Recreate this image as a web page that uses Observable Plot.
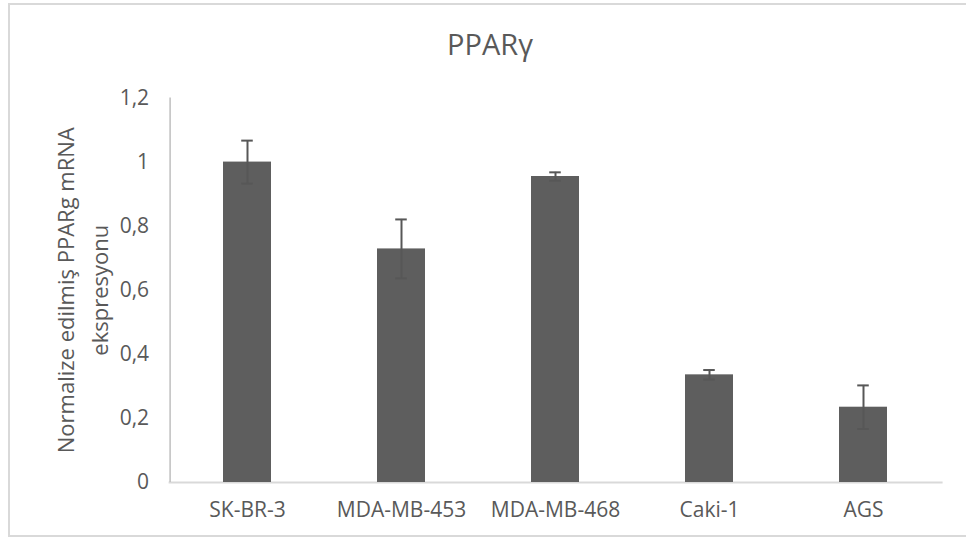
<!DOCTYPE html>
<html>
<head>
<meta charset="utf-8">
<script src="https://cdn.jsdelivr.net/npm/d3@7"></script>
<script src="https://cdn.jsdelivr.net/npm/@observablehq/plot@0.6"></script>
<style>
  html, body { margin: 0; padding: 0; background: #fff; }
  #wrap { position: relative; width: 966px; height: 538px; overflow: hidden; font-family: "Open Sans", sans-serif; }
  #frame { position: absolute; left: 8px; top: 3px; width: 980px; height: 534px; border: 2px solid #d9d9d9; box-sizing: border-box; }
  #title { position: absolute; left: 8px; width: 964px; top: 27px; text-align: center; font-size: 29px; line-height: 34px; color: #595959; }
  #chart { position: absolute; left: 0; top: 75px; }
</style>
</head>
<body>
<div id="wrap">
  <div id="frame"></div>
  <div id="title">PPARγ</div>
  <div id="chart"></div>
</div>
<script>
const categories = ["SK-BR-3", "MDA-MB-453", "MDA-MB-468", "Caki-1", "AGS"];
const values = [1.0, 0.729, 0.955, 0.336, 0.235];
const errors = [0.067, 0.092, 0.013, 0.015, 0.068];
const yTicks = [0, 0.2, 0.4, 0.6, 0.8, 1.0, 1.2];
const yTickLabels = ["0", "0,2", "0,4", "0,6", "0,8", "1", "1,2"];
const yTitle = "Normalize edilmiş PPARg mRNA\nekspresyonu";

const data = categories.map((c, i) => ({cat: c, v: values[i], e: errors[i]}));

const W = 966, H = 463, ml = 168.6, mr = 23.4, mt = 22.5, mb = 56;
const padIn = 0.687;
const step = (W - ml - mr) / categories.length;
const bw = step * (1 - padIn);
const capW = 12;

const chart = Plot.plot({
  width: W,
  height: H,
  marginLeft: ml,
  marginRight: mr,
  marginTop: mt,
  marginBottom: mb,
  style: {fontFamily: "Open Sans, sans-serif", fontSize: "21px", color: "#595959", background: "transparent"},
  x: {type: "band", domain: categories, paddingInner: padIn, paddingOuter: padIn / 2},
  y: {domain: [0, 1.2]},
  marks: [
    Plot.ruleY([0], {stroke: "#d9d9d9", strokeWidth: 2}),
    Plot.barY(data, {x: "cat", y: "v", fill: "#5e5e5e"}),
    Plot.ruleX(data, {x: "cat", y1: d => d.v - d.e, y2: d => d.v + d.e, stroke: "#575757", strokeWidth: 2}),
    Plot.tickY(data, {x: "cat", y: d => d.v + d.e, stroke: "#575757", strokeWidth: 2, insetLeft: (bw - capW) / 2, insetRight: (bw - capW) / 2}),
    Plot.tickY(data, {x: "cat", y: d => d.v - d.e, stroke: "#575757", strokeWidth: 2, insetLeft: (bw - capW) / 2, insetRight: (bw - capW) / 2}),
    Plot.ruleX([categories[0]], {x: d => d, y1: 0, y2: 1.2, dx: -step / 2, stroke: "#bfbfbf", strokeWidth: 1.5}),
    Plot.axisY({ticks: yTicks, tickFormat: d => yTickLabels[yTicks.indexOf(d)], tickSize: 0, tickPadding: 20, label: null, fontSize: 21}),
    Plot.axisX({tickSize: 0, tickPadding: 20, label: null, fontSize: 21}),
    Plot.text([yTitle], {text: d => d, frameAnchor: "left", rotate: -90, dx: -89, lineHeight: 1.55, fontSize: 22, fill: "#595959", textAnchor: "middle", lineAnchor: "middle"})
  ]
});
document.getElementById("chart").appendChild(chart);
</script>
</body>
</html>
